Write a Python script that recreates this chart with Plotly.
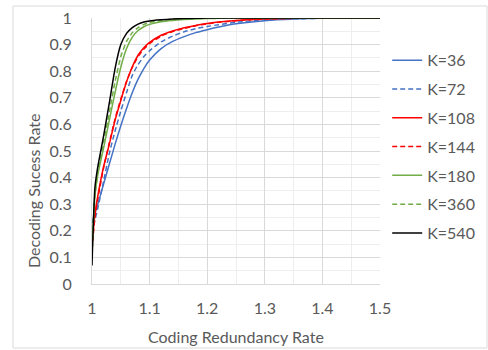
import plotly.graph_objects as go

x_vals = [1.0, 1.005, 1.01, 1.02, 1.03, 1.04, 1.05, 1.06, 1.07, 1.08, 1.09, 1.1,
          1.12, 1.14, 1.16, 1.18, 1.2, 1.22, 1.25, 1.3, 1.35, 1.4, 1.45, 1.5]

k36 = [0.23, 0.265, 0.30, 0.375, 0.45, 0.525, 0.595, 0.66, 0.72, 0.77, 0.81, 0.842,
       0.885, 0.912, 0.93, 0.945, 0.956, 0.966, 0.978, 0.99, 0.996, 0.999, 1.0, 1.0]
k72 = [0.19, 0.24, 0.285, 0.385, 0.49, 0.575, 0.65, 0.72, 0.785, 0.825, 0.855, 0.877,
       0.91, 0.932, 0.948, 0.96, 0.968, 0.975, 0.984, 0.993, 0.997, 0.999, 1.0, 1.0]
k108 = [0.15, 0.26, 0.33, 0.44, 0.525, 0.615, 0.69, 0.76, 0.817, 0.86, 0.888, 0.908,
        0.935, 0.951, 0.963, 0.972, 0.979, 0.985, 0.991, 0.997, 0.999, 1.0, 1.0, 1.0]
k144 = [0.13, 0.25, 0.32, 0.435, 0.53, 0.62, 0.695, 0.762, 0.815, 0.855, 0.883, 0.904,
        0.932, 0.949, 0.961, 0.971, 0.978, 0.984, 0.99, 0.996, 0.999, 1.0, 1.0, 1.0]
k180 = [0.14, 0.33, 0.41, 0.51, 0.615, 0.72, 0.815, 0.885, 0.928, 0.953, 0.967, 0.976,
        0.986, 0.991, 0.994, 0.996, 0.998, 0.999, 1.0, 1.0, 1.0, 1.0, 1.0, 1.0]
k360 = [0.11, 0.33, 0.42, 0.53, 0.645, 0.76, 0.855, 0.912, 0.945, 0.964, 0.976, 0.983,
        0.991, 0.995, 0.997, 0.998, 0.999, 1.0, 1.0, 1.0, 1.0, 1.0, 1.0, 1.0]
k540 = [0.07, 0.36, 0.44, 0.555, 0.68, 0.81, 0.90, 0.942, 0.964, 0.977, 0.985, 0.989,
        0.993, 0.996, 0.998, 0.999, 1.0, 1.0, 1.0, 1.0, 1.0, 1.0, 1.0, 1.0]

series = [
    ("K=36", k36, "#4472C4", "solid"),
    ("K=72", k72, "#4472C4", "5px,3px"),
    ("K=108", k108, "#FF0000", "solid"),
    ("K=144", k144, "#FF0000", "5px,3px"),
    ("K=180", k180, "#70AD47", "solid"),
    ("K=360", k360, "#70AD47", "5px,3px"),
    ("K=540", k540, "#000000", "solid"),
]

FONT = "Lato"
GRAY = "#595959"
FS = 16

fig = go.Figure()
for i, (name, ys, color, dash) in enumerate(series):
    fig.add_trace(go.Scatter(
        x=x_vals, y=ys, mode="lines", name=name, legendgroup=f"g{i}",
        line=dict(color=color, width=1.5, dash=dash, shape="spline", smoothing=0.5),
    ))

fig.update_layout(
    width=488, height=350,
    margin=dict(l=92, r=108, t=18, b=66, autoexpand=False),
    paper_bgcolor="white", plot_bgcolor="white",
    font=dict(family=FONT, size=FS, color=GRAY),
    showlegend=True,
    legend=dict(x=1.025, y=0.905, xanchor="left", yanchor="top",
                font=dict(family=FONT, size=FS, color=GRAY),
                tracegroupgap=5, itemwidth=30, bgcolor="rgba(0,0,0,0)"),
    xaxis=dict(range=[1, 1.5], dtick=0.1, tick0=1, showgrid=True, gridcolor="#d9d9d9",
               gridwidth=1, zeroline=False, showline=True, linecolor="#d9d9d9",
               ticks="", ticklabelstandoff=10,
               minor=dict(dtick=0.05, tick0=1, showgrid=True, gridcolor="#eeeeee"),
               tickfont=dict(family=FONT, size=FS, color=GRAY)),
    yaxis=dict(range=[0, 1], dtick=0.1, tick0=0, showgrid=True, gridcolor="#d9d9d9",
               gridwidth=1, zeroline=False, showline=True, linecolor="#d9d9d9",
               ticks="", ticklabelstandoff=16,
               minor=dict(dtick=0.05, tick0=0, showgrid=True, gridcolor="#eeeeee"),
               tickfont=dict(family=FONT, size=FS, color=GRAY)),
)

fig.add_annotation(text="Coding Redundancy Rate", xref="paper", yref="paper",
                   x=(235.5 - 92) / 288, y=(284 - 336) / 266,
                   xanchor="center", yanchor="middle", showarrow=False,
                   font=dict(family=FONT, size=FS, color=GRAY))
fig.add_annotation(text="Decoding Sucess Rate", xref="paper", yref="paper",
                   x=(33 - 92) / 288, y=(284 - 191) / 266, textangle=-90,
                   xanchor="center", yanchor="middle", showarrow=False,
                   font=dict(family=FONT, size=FS, color=GRAY))

fig.add_shape(type="rect", xref="paper", yref="paper",
              x0=(13 - 92) / 288, x1=(487 - 92) / 288,
              y0=(284 - 348) / 266, y1=(284 - 6) / 266,
              line=dict(color="#d9d9d9", width=1), layer="below")

fig.write_html("out.html")
